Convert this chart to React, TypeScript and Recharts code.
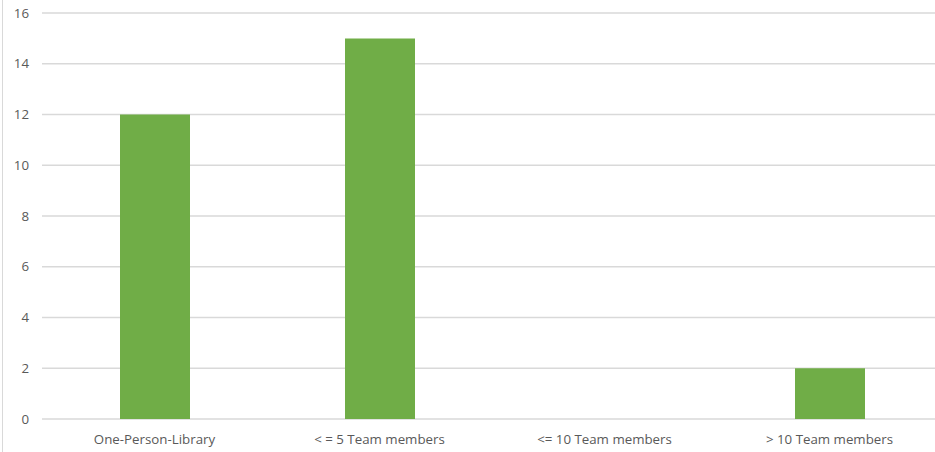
import { BarChart, Bar, XAxis, YAxis, CartesianGrid } from "recharts";

const categories = [
  "One-Person-Library",
  "< = 5 Team members",
  "<= 10 Team members",
  "> 10 Team members",
];
const counts = [12, 15, 0, 2];
const yTicks = [0, 2, 4, 6, 8, 10, 12, 14, 16];

const data = categories.map((name, i) => ({ name, value: counts[i] }));

const tickStyle = {
  fontSize: 13.3,
  fill: "#595959",
  fontFamily: "'Open Sans', sans-serif",
};

export default function App() {
  return (
    <div
      style={{
        position: "absolute",
        left: 0,
        top: 0,
        width: 935,
        height: 452,
        overflow: "hidden",
        background: "#fff",
      }}
    >
      <div
        style={{
          position: "absolute",
          left: 2,
          top: 0,
          width: 1,
          height: 452,
          background: "#d9d9d9",
        }}
      />
      <BarChart
        width={945}
        height={452}
        data={data}
        margin={{ top: 13, right: 3, left: 0, bottom: 0 }}
      >
        <CartesianGrid vertical={false} stroke="#d9d9d9" strokeWidth={1.4} />
        <XAxis
          dataKey="name"
          height={33}
          tick={tickStyle}
          tickLine={false}
          axisLine={false}
          tickSize={0}
          tickMargin={16}
          interval={0}
        />
        <YAxis
          width={42}
          domain={[0, 16]}
          ticks={yTicks}
          tick={tickStyle}
          tickLine={false}
          axisLine={false}
          tickSize={0}
          tickMargin={13}
        />
        <Bar dataKey="value" fill="#70ad47" barSize={70} isAnimationActive={false} />
      </BarChart>
    </div>
  );
}
